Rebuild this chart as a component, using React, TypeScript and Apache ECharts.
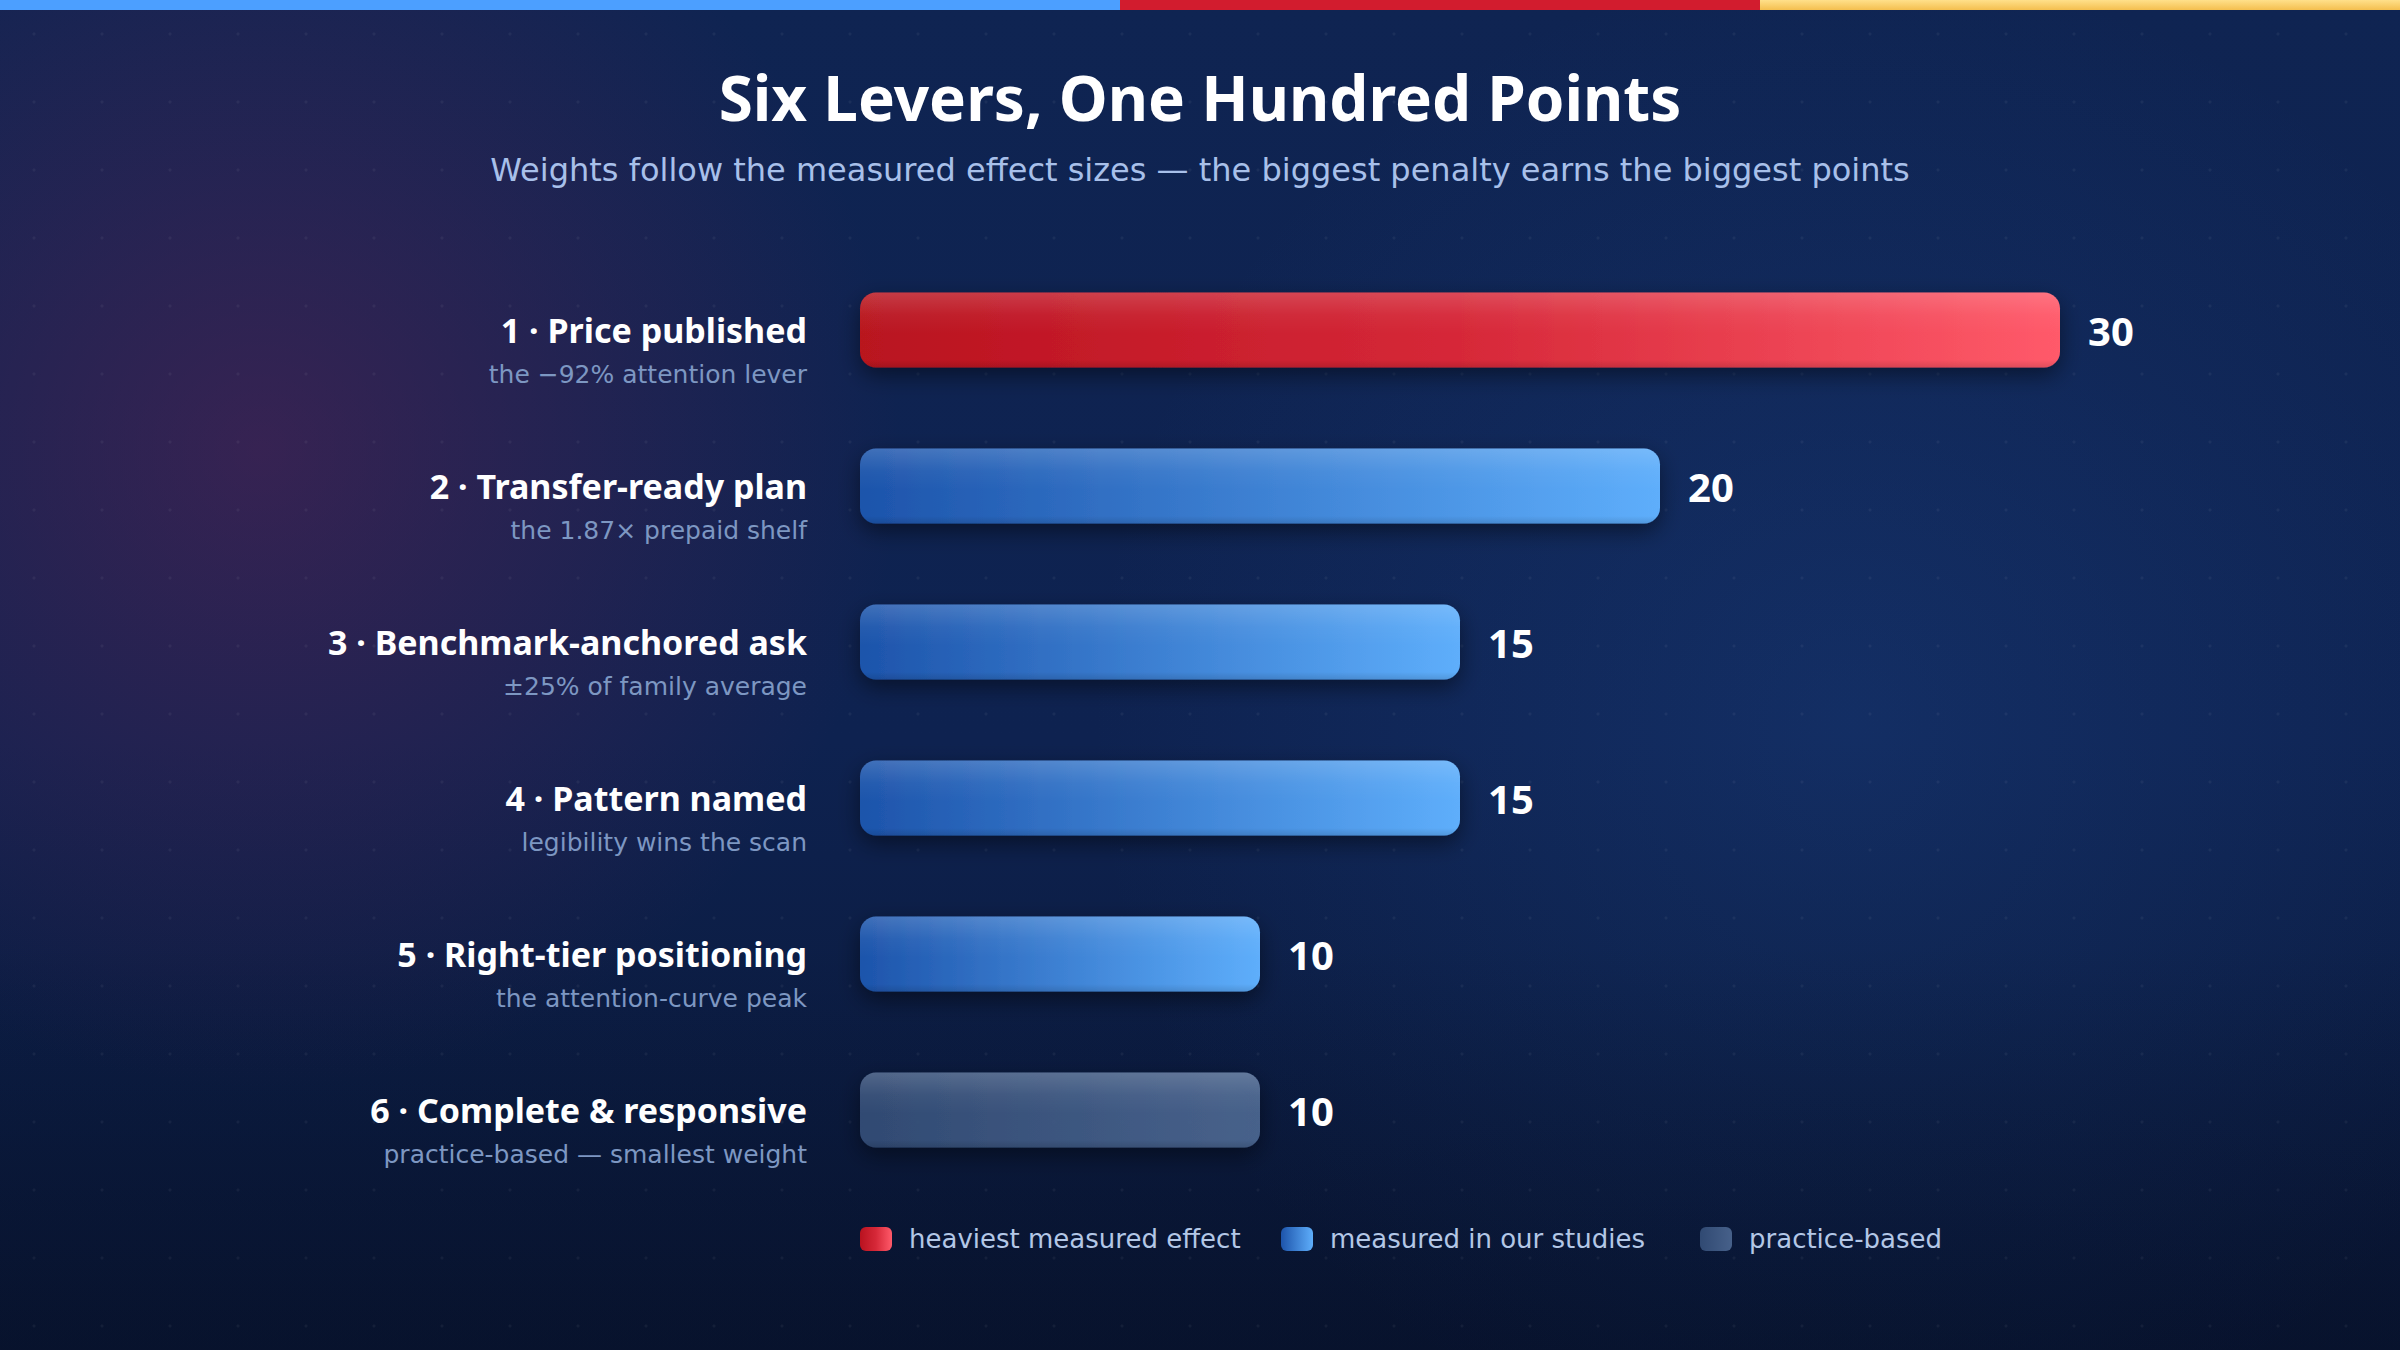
import React, { useEffect, useRef } from "react";
import * as echarts from "echarts";

const W = 2400;
const H = 1350;

const CATEGORIES = [
  "1 · Price published",
  "2 · Transfer-ready plan",
  "3 · Benchmark-anchored ask",
  "4 · Pattern named",
  "5 · Right-tier positioning",
  "6 · Complete & responsive",
];
const SUBLABELS = [
  "the −92% attention lever",
  "the 1.87× prepaid shelf",
  "±25% of family average",
  "legibility wins the scan",
  "the attention-curve peak",
  "practice-based — smallest weight",
];
const POINTS = [30, 20, 15, 15, 10, 10];
const TIERS = ["heaviest", "measured", "measured", "measured", "measured", "practice"];
const TIER_KEYS = ["heaviest", "measured", "practice"];
const LEGEND_NAMES = ["heaviest measured effect", "measured in our studies", "practice-based"];

const TITLE = "Six Levers, One Hundred Points";
const SUBTITLE = "Weights follow the measured effect sizes — the biggest penalty earns the biggest points";

const BOLD = "Noto Sans";
const REG = "DejaVu Sans";

export default function App() {
  const ref = useRef<HTMLDivElement>(null);

  useEffect(() => {
    document.body.style.margin = "0";
    const chart = echarts.init(ref.current!, null, { renderer: "svg", width: W, height: H });

    const LG = echarts.graphic.LinearGradient;
    const RG = echarts.graphic.RadialGradient;

    const tierColors: Record<string, any> = {
      heaviest: new LG(0, 0, 1, 0, [
        { offset: 0, color: "#b9121f" },
        { offset: 0.5, color: "#d62838" },
        { offset: 1, color: "#ff5a6a" },
      ]),
      measured: new LG(0, 0, 1, 0, [
        { offset: 0, color: "#1d54ab" },
        { offset: 1, color: "#5eaefb" },
      ]),
      practice: new LG(0, 0, 1, 0, [
        { offset: 0, color: "rgba(52,78,120,0.92)" },
        { offset: 1, color: "rgba(76,103,145,0.92)" },
      ]),
    };

    const dots: any[] = [];
    for (let i = 0; i < 36; i++) {
      for (let j = 0; j < 20; j++) {
        dots.push({
          type: "circle",
          silent: true,
          z: -8,
          shape: { cx: 34 + 68 * i, cy: 34 + 68 * j, r: 1.6 },
          style: { fill: "rgba(255,255,255,0.05)" },
        });
      }
    }

    const barSeries = TIER_KEYS.map((key, k) => ({
      name: LEGEND_NAMES[k],
      type: "bar",
      barWidth: 75,
      barGap: "-100%",
      data: POINTS.map((v, i) => (TIERS[i] === key ? v : "-")),
      itemStyle: {
        color: tierColors[key],
        borderRadius: 16,
        shadowColor: "rgba(0,0,10,0.45)",
        shadowBlur: 22,
        shadowOffsetY: 8,
      },
      label: {
        show: true,
        position: "right",
        distance: 28,
        formatter: "{c}",
        color: "#ffffff",
        fontSize: 40,
        fontWeight: "bold",
        fontFamily: BOLD,
      },
      z: 2,
    }));

    const overlay = {
      type: "bar",
      barWidth: 75,
      barGap: "-100%",
      silent: true,
      data: POINTS,
      itemStyle: {
        color: new LG(0, 0, 0, 1, [
          { offset: 0, color: "rgba(255,255,255,0.16)" },
          { offset: 0.3, color: "rgba(255,255,255,0.04)" },
          { offset: 0.55, color: "rgba(255,255,255,0)" },
          { offset: 0.9, color: "rgba(0,0,0,0)" },
          { offset: 1, color: "rgba(0,0,0,0.12)" },
        ]),
        borderRadius: 16,
      },
      label: { show: false },
      z: 3,
    };

    const legendLefts = [860, 1281, 1700];
    const legends = LEGEND_NAMES.map((n, k) => ({
      data: [n],
      left: legendLefts[k],
      top: 1226,
      padding: 0,
      icon: "roundRect",
      itemWidth: 32,
      itemHeight: 24,
      selectedMode: false,
      textStyle: {
        color: "#b3c7e6",
        fontSize: 26,
        fontFamily: REG,
        padding: [0, 0, 0, 12],
      },
    }));

    const option: any = {
      animation: false,
      graphic: [
        {
          type: "rect",
          silent: true,
          z: -10,
          shape: { x: 0, y: 0, width: W, height: H },
          style: {
            fill: new LG(0, 0, 0, 1, [
              { offset: 0, color: "#0f2452" },
              { offset: 0.55, color: "#0e2250" },
              { offset: 1, color: "#091735" },
            ]),
          },
        },
        {
          type: "rect",
          silent: true,
          z: -9,
          shape: { x: 0, y: 0, width: W, height: H },
          style: {
            fill: new RG(260, 450, 640, [
              { offset: 0, color: "rgba(115,35,85,0.4)" },
              { offset: 1, color: "rgba(115,35,85,0)" },
            ], true),
          },
        },
        {
          type: "rect",
          silent: true,
          z: -9,
          shape: { x: 0, y: 0, width: W, height: H },
          style: {
            fill: new RG(1850, 720, 760, [
              { offset: 0, color: "rgba(40,95,180,0.2)" },
              { offset: 1, color: "rgba(40,95,180,0)" },
            ], true),
          },
        },
        {
          type: "rect",
          silent: true,
          z: -9,
          shape: { x: 0, y: 0, width: W, height: H },
          style: {
            fill: new LG(0, 0, 0, 1, [
              { offset: 0, color: "rgba(5,10,30,0)" },
              { offset: 0.7, color: "rgba(5,10,30,0)" },
              { offset: 1, color: "rgba(5,10,30,0.35)" },
            ]),
          },
        },
        ...dots,
        { type: "rect", silent: true, z: 5, shape: { x: 0, y: 0, width: 1120, height: 10 }, style: { fill: "#4c9fff" } },
        { type: "rect", silent: true, z: 5, shape: { x: 1120, y: 0, width: 640, height: 10 }, style: { fill: "#d21c2e" } },
        {
          type: "rect",
          silent: true,
          z: 5,
          shape: { x: 1760, y: 0, width: 640, height: 10 },
          style: {
            fill: new LG(0, 0, 0, 1, [
              { offset: 0, color: "#ffe08a" },
              { offset: 1, color: "#f4bf4f" },
            ]),
          },
        },
        {
          type: "text",
          z: 5,
          x: 1200,
          y: 97,
          style: {
            text: TITLE,
            fill: "#ffffff",
            fontSize: 62,
            fontWeight: "bold",
            fontFamily: BOLD,
            textAlign: "center",
            textVerticalAlign: "middle",
          },
        },
        {
          type: "text",
          z: 5,
          x: 1200,
          y: 170,
          style: {
            text: SUBTITLE,
            fill: "#a8c0ea",
            fontSize: 32,
            fontFamily: REG,
            textAlign: "center",
            textVerticalAlign: "middle",
          },
        },
      ],
      legend: legends,
      grid: { left: 860, right: 340, top: 252, height: 936 },
      xAxis: {
        type: "value",
        min: 0,
        max: 30,
        show: false,
      },
      yAxis: {
        type: "category",
        inverse: true,
        data: CATEGORIES,
        axisLine: { show: false },
        axisTick: { show: false },
        splitLine: { show: false },
        axisLabel: {
          margin: 53,
          align: "right",
          padding: [44, 0, 0, 0],
          formatter: (value: string, index: number) => `{a|${value}}\n{b|${SUBLABELS[index]}}`,
          rich: {
            a: { fontSize: 34, fontWeight: "bold", fontFamily: BOLD, color: "#ffffff", lineHeight: 44, align: "right" },
            b: { fontSize: 25, fontFamily: REG, color: "#7d97c2", lineHeight: 44, align: "right" },
          },
        },
      },
      series: [...barSeries, overlay],
    };

    chart.setOption(option);
    return () => chart.dispose();
  }, []);

  return <div ref={ref} style={{ width: W, height: H }} />;
}
